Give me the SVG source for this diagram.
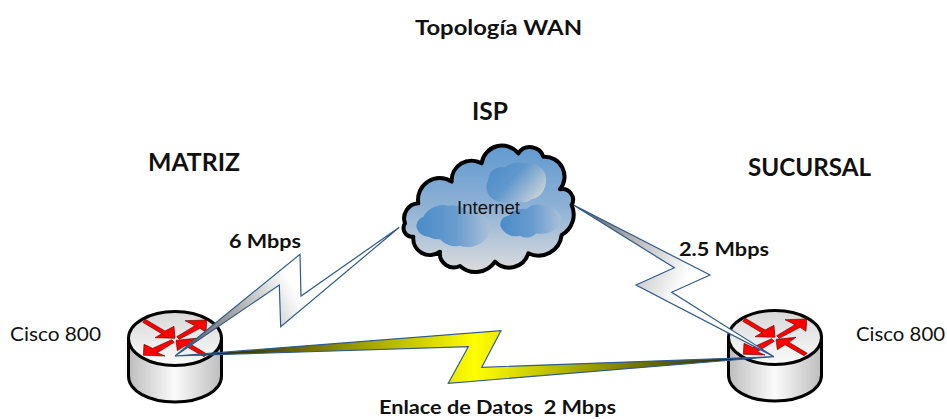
<svg xmlns="http://www.w3.org/2000/svg" width="947" height="419" viewBox="0 0 947 419">
<style>
.b{font-family:Lato,"Open Sans","Liberation Sans",sans-serif;font-weight:700;fill:#111}
.r{font-family:Lato,"Open Sans","Liberation Sans",sans-serif;fill:#111;font-size:20px}
.bolt{stroke:#2f5b8f;stroke-width:1.2;stroke-linejoin:miter}
.arr{fill:#f00;stroke:#500;stroke-width:.6}
.rs{stroke:#000;stroke-width:3}
</style>
<defs>
<linearGradient id="body" x1="0" x2="1" y1="0" y2="0"><stop offset="0" stop-color="#bdbdbd"/><stop offset=".5" stop-color="#fbfbfb"/><stop offset="1" stop-color="#bdbdbd"/></linearGradient>
<linearGradient id="top" x1="0" x2="0" y1="0" y2="1"><stop offset="0" stop-color="#d8d8d8"/><stop offset="1" stop-color="#fbfbfb"/></linearGradient>
<linearGradient id="sky" x1="0" x2="0" y1="0" y2="1"><stop offset="0" stop-color="#6199d0"/><stop offset=".5" stop-color="#8fb2d5"/><stop offset="1" stop-color="#dcdcdc"/></linearGradient>
<linearGradient id="ci" x1="0" x2="1" y1="0" y2=".6"><stop offset="0" stop-color="#4a8bc8"/><stop offset=".5" stop-color="#6098cd"/><stop offset="1" stop-color="#c2ced9"/></linearGradient>
<linearGradient id="cj" x1="0" x2="1" y1="0" y2="0"><stop offset="0" stop-color="#4a8bc8"/><stop offset=".55" stop-color="#6a9dcf"/><stop offset="1" stop-color="#a9c0d8"/></linearGradient>
<linearGradient id="gy" gradientUnits="userSpaceOnUse" x1="175" y1="356" x2="775" y2="356"><stop offset="0" stop-color="#000"/><stop offset=".5" stop-color="#ff0"/><stop offset="1" stop-color="#000"/></linearGradient>
<linearGradient id="gl" gradientUnits="userSpaceOnUse" x1="185" y1="350" x2="295" y2="290"><stop offset="0" stop-color="#555"/><stop offset=".5" stop-color="#aaa"/><stop offset="1" stop-color="#fff"/></linearGradient>
<linearGradient id="gr" gradientUnits="userSpaceOnUse" x1="572" y1="204" x2="695" y2="260"><stop offset="0" stop-color="#444"/><stop offset=".55" stop-color="#bbb"/><stop offset="1" stop-color="#fff"/></linearGradient>
<g id="router">
<path class="rs" fill="url(#body)" d="M128.500 338.500V376C128.500 391 149 402 175 402S221.500 391 221.500 376V338.500Z"/>
<ellipse class="rs" fill="url(#top)" cx="175" cy="338.500" rx="46.500" ry="27"/>
<polygon class="arr" points="145.300,319.300 165,331 174,326.300 175,338.300 155,337.700 161.700,333.700 142.700,322.300"/>
<polygon class="arr" points="176.700,336.700 195,325.700 185,320.700 206.700,320 206,332.300 200,328.300 179.300,339.300"/>
<polygon class="arr" points="171.700,339.700 174.300,342.300 157.300,352.700 165,356 143.300,355.300 144,344.300 152.700,348.300"/>
<polygon class="arr" points="176,340.300 196,338.300 189,343.300 207.300,354.300 204,356.700 185,345.700 177.300,350.700"/>
</g>
</defs>
<text class="b" x="415" y="35" font-size="20" textLength="167" lengthAdjust="spacingAndGlyphs">Topología WAN</text>
<text class="b" x="472" y="120" font-size="24" textLength="36" lengthAdjust="spacingAndGlyphs">ISP</text>
<text class="b" x="148" y="171" font-size="24" textLength="92" lengthAdjust="spacingAndGlyphs">MATRIZ</text>
<text class="b" x="748" y="176" font-size="24" textLength="123" lengthAdjust="spacingAndGlyphs">SUCURSAL</text>
<g id="router-matriz"><use href="#router"/><text class="r" x="10" y="341" textLength="91" lengthAdjust="spacingAndGlyphs">Cisco 800</text></g>
<g id="router-sucursal"><use href="#router" transform="translate(600,-1)"/><text class="r" x="856" y="341" textLength="89" lengthAdjust="spacingAndGlyphs">Cisco 800</text></g>
<g id="connectors">
<polygon class="bolt" fill="url(#gl)" points="175,356 300,254.300 301,296 399.300,227.300 280.700,326.700 279.300,285"/>
<polygon class="bolt" fill="url(#gr)" points="571.700,204 710,275 671.700,292.300 774,356.700 636,285 674.300,267.700"/>
<polygon class="bolt" fill="url(#gy)" points="175,356 501,330.700 481.700,367.300 774,356.700 448.300,383.300 468.300,346.700"/>
<text class="b" x="229" y="248" font-size="19" textLength="72" lengthAdjust="spacingAndGlyphs">6 Mbps</text>
<text class="b" x="679" y="256" font-size="19" textLength="90" lengthAdjust="spacingAndGlyphs">2.5 Mbps</text>
<text class="b" x="379" y="414" font-size="19" xml:space="preserve" textLength="237" lengthAdjust="spacingAndGlyphs">Enlace de Datos  2 Mbps</text>
</g>
<g id="internet">
<g transform="translate(380,140) scale(.3333)">
<path fill="url(#sky)" stroke="#000" stroke-width="12" stroke-linejoin="round" d="M75 250A45 45 0 0 1 115 190A65 65 0 0 1 215 125A60 60 0 0 1 305 70A62 62 0 0 1 415 40A42 42 0 0 1 490 50A60 60 0 0 1 540 148A32 32 0 0 1 575 195A70 70 0 0 1 545 285A70 70 0 0 1 445 340A60 60 0 0 1 345 365A70 70 0 0 1 240 378A42 42 0 0 1 180 335A50 50 0 0 1 100 290A26 26 0 0 1 75 250Z"/>
<path fill="url(#ci)" d="M330 170A42 42 0 0 1 325 120A40 40 0 0 1 375 82A60 60 0 0 1 430 70A60 60 0 0 1 495 100A60 60 0 0 1 495 140A50 50 0 0 1 455 178A30 30 0 0 1 420 182A80 80 0 0 1 330 170Z"/>
<path fill="url(#cj)" d="M110 265A30 30 0 0 1 130 230A70 70 0 0 1 205 197A70 70 0 0 1 265 215A60 60 0 0 1 325 245A50 50 0 0 1 325 285A70 70 0 0 1 240 317A60 60 0 0 1 180 298A70 70 0 0 1 145 290A40 40 0 0 1 110 265Z"/>
<path fill="url(#cj)" d="M362 260A25 25 0 0 1 385 228A60 60 0 0 1 440 207A50 50 0 0 1 490 197A40 40 0 0 1 530 212A30 30 0 0 1 542 240A40 40 0 0 1 525 268A70 70 0 0 1 470 280A40 40 0 0 1 420 287A50 50 0 0 1 362 260Z"/>
</g>
<text x="457" y="214" font-family="'Liberation Sans',Arial,sans-serif" font-size="18.500" fill="#111" textLength="63" lengthAdjust="spacingAndGlyphs">Internet</text>
</g>
</svg>
